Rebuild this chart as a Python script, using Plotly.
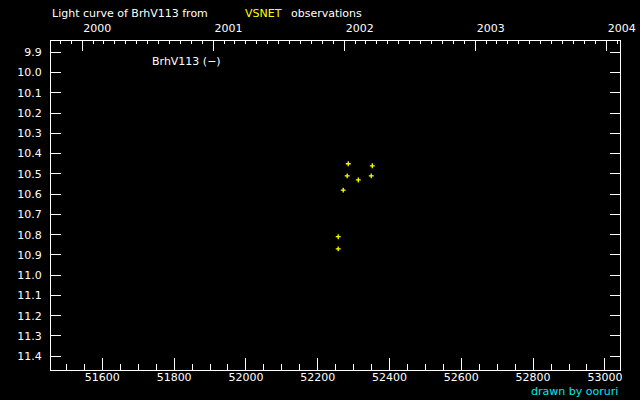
import datetime as dt
import plotly.graph_objects as go

# observations (MJD, visual magnitude)
mjd = [52285, 52352, 52282, 52313, 52349, 52271, 52257, 52257]
mag = [10.45, 10.46, 10.51, 10.53, 10.51, 10.58, 10.81, 10.87]

years = [2000, 2001, 2002, 2003, 2004]
mag_ticks = [9.9, 10.0, 10.1, 10.2, 10.3, 10.4, 10.5, 10.6, 10.7, 10.8, 10.9,
             11.0, 11.1, 11.2, 11.3, 11.4]

X_RANGE = [51457, 53042]
Y_RANGE = [11.468, 9.844]

MJD0 = dt.date(1858, 11, 17)


def to_mjd(d):
    return (d - MJD0).days


year_vals = [to_mjd(dt.date(y, 1, 1)) for y in years]
month_vals = [to_mjd(dt.date(y, m, 1)) for y in range(1999, 2005) for m in range(1, 13)]
month_vals = [v for v in month_vals if X_RANGE[0] <= v <= X_RANGE[1]]

FONT = "DejaVu Sans"
WHITE = "#ffffff"
YELLOW = "#ffff00"
CYAN = "#00e8f0"

fig = go.Figure()
fig.add_trace(go.Scatter(
    x=mjd, y=mag, mode="markers",
    marker=dict(symbol="cross-thin", size=3.5, line=dict(color=YELLOW, width=1.3)),
    hoverinfo="x+y", showlegend=False,
))
# empty trace to hold the calendar axis on top
fig.add_trace(go.Scatter(x=X_RANGE, y=Y_RANGE, xaxis="x2", mode="none",
                         hoverinfo="skip", showlegend=False))

fig.update_layout(
    width=640, height=400,
    paper_bgcolor="black", plot_bgcolor="black",
    margin=dict(l=51, r=20, t=41, b=30),
    font=dict(family=FONT, size=11, color=WHITE),
    xaxis=dict(
        range=X_RANGE, showgrid=False, zeroline=False, automargin=False,
        showline=True, linecolor=WHITE, linewidth=1, mirror=True,
        tickmode="linear", tick0=51600, dtick=200,
        ticks="inside", ticklen=12, tickcolor=WHITE, tickwidth=1,
        tickformat="d", ticklabelstandoff=-3,
        minor=dict(tickmode="linear", tick0=51600, dtick=50,
                   ticks="inside", ticklen=6, tickcolor=WHITE, tickwidth=1),
        tickfont=dict(size=11, color=WHITE),
    ),
    xaxis2=dict(
        range=X_RANGE, overlaying="x", side="top", anchor="y", automargin=False,
        showgrid=False, zeroline=False, showline=True, linecolor=WHITE,
        tickmode="array", tickvals=year_vals, ticktext=[str(y) for y in years],
        ticks="inside", ticklen=10, tickcolor=WHITE, tickwidth=1,
        ticklabelshift=15, ticklabelstandoff=4,
        minor=dict(tickmode="array", tickvals=month_vals,
                   ticks="inside", ticklen=3, tickcolor=WHITE, tickwidth=1),
        tickfont=dict(size=11, color=WHITE),
    ),
    yaxis=dict(
        range=Y_RANGE, showgrid=False, zeroline=False, automargin=False,
        showline=True, linecolor=WHITE, linewidth=1, mirror="ticks",
        tickmode="array", tickvals=mag_ticks,
        ticktext=[f"{v:.1f}" for v in mag_ticks],
        ticks="inside", ticklen=10, tickcolor=WHITE, tickwidth=1,
        ticklabelstandoff=6,
        tickfont=dict(size=11, color=WHITE),
    ),
)

annots = [
    ("Light curve of BrhV113 from", 50, 14, WHITE),
    ("VSNET", 243, 14, YELLOW),
    ("observations", 289, 14, WHITE),
    ("BrhV113 (−)", 150, 61, WHITE),
]
for text, px, py, col in annots:
    fig.add_annotation(text=text, xref="paper", yref="paper",
                       x=(px - 51) / 569, y=1 - (py - 41) / 329,
                       xanchor="left", yanchor="middle", showarrow=False,
                       font=dict(family=FONT, size=11, color=col))
fig.add_annotation(text="drawn by ooruri", xref="paper", yref="paper",
                   x=1, y=1 - (391 - 41) / 329, xanchor="right", yanchor="middle",
                   showarrow=False, font=dict(family=FONT, size=11, color=CYAN))

# page body has a default 8px margin; drop it so the figure sits at 0,0
fig.write_html("out.html", config={"displayModeBar": False},
               post_script="document.body.style.margin='0';")
